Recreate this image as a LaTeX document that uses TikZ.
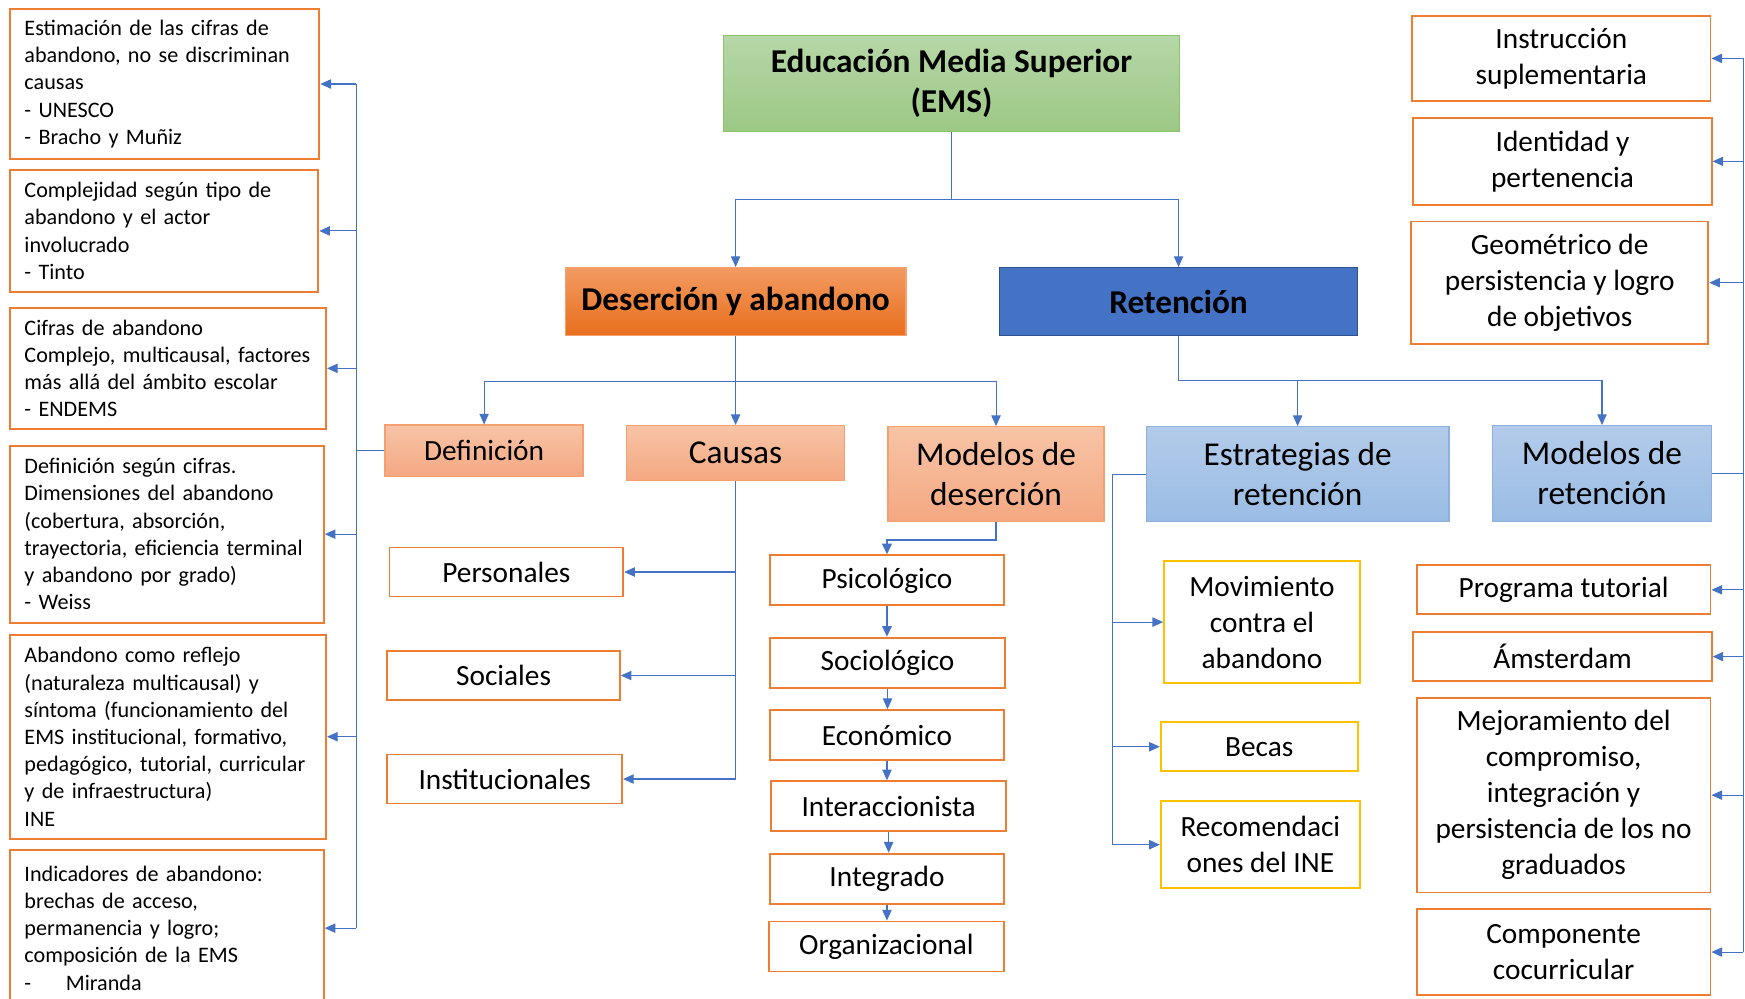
\documentclass[tikz,border=0pt]{standalone}
\usepackage{fontspec}
\setmainfont{Carlito}
\usetikzlibrary{arrows.meta,calc}
\definecolor{orng}{HTML}{ED7D31}
\definecolor{yel}{HTML}{FFC000}
\definecolor{lnblue}{HTML}{4472C4}
\definecolor{grtop}{HTML}{B6D7A8}
\definecolor{grbot}{HTML}{9CC885}
\definecolor{grbd}{HTML}{8CC46C}
\definecolor{ortop}{HTML}{F29B62}
\definecolor{orbot}{HTML}{E86E1C}
\definecolor{satop}{HTML}{F7C4A6}
\definecolor{sabot}{HTML}{F4A882}
\definecolor{sabd}{HTML}{F4A070}
\definecolor{rblue}{HTML}{4472C4}
\definecolor{rbd}{HTML}{2F528F}
\definecolor{lbtop}{HTML}{B3CBEA}
\definecolor{lbbot}{HTML}{9ABCE4}
\definecolor{lbbd}{HTML}{8FB0DD}
\tikzset{
  sz/.style 2 args={minimum width=#1*0.8347pt, minimum height=#2*0.8347pt},
  tw/.style={text width=#1*0.8347pt},
  lbox/.style={draw=orng, line width=1.4pt, fill=white, align=left,
     inner xsep=13*0.8347pt, inner ysep=0pt, font=\fontsize{16.6}{20.4}\selectfont},
  wbox/.style={draw=orng, line width=1.4pt, fill=white, align=center, inner sep=0pt,
     font=\fontsize{22}{27}\selectfont},
  ybox/.style={wbox, draw=yel},
  hbox/.style={line width=1pt, align=center, inner sep=0pt, font=\fontsize{25}{30}\selectfont\bfseries},
  sbox/.style={draw=sabd, line width=1pt, top color=satop, bottom color=sabot, align=center, inner sep=0pt,
     font=\fontsize{25}{30}\selectfont},
  bbox/.style={draw=lbbd, line width=1pt, top color=lbtop, bottom color=lbbot, align=center, inner sep=0pt,
     font=\fontsize{25}{30}\selectfont},
  ln/.style={draw=lnblue, line width=0.8pt},
  arr/.style={ln, -{Triangle[length=8pt,width=7pt]}},
  thk/.style={draw=lnblue, line width=1.6pt, -{Triangle[length=8pt,width=7pt]}},
}
\begin{document}
\begin{tikzpicture}[x=0.8347pt, y=-0.8347pt]
\useasboundingbox (0,0) rectangle (1568,897);

% top level
\node[hbox, draw=grbd, top color=grtop, bottom color=grbot, sz={410}{86}] (EMS) at (855,75) {Educación Media Superior\\(EMS)};
\node[hbox, draw=sabd, top color=ortop, bottom color=orbot, sz={306}{61}] (Des) at (661,271) {Deserción y abandono};
\node[hbox, draw=rbd, fill=rblue, sz={322}{61}] (Ret) at (1059,271) {Retención};

% second level
\node[sbox, sz={178}{46}, font=\fontsize{22}{27}\selectfont] (Def) at (435,405) {Definición};
\node[sbox, sz={196}{49}] (Cau) at (661,407) {Causas};
\node[sbox, sz={194}{85}] (MD) at (895,426) {Modelos de\\deserción};
\node[bbox, sz={272}{85}] (ER) at (1166,426) {Estrategias de\\retención};
\node[bbox, sz={197}{86}] (MR) at (1439.5,425.5) {Modelos de\\retención};

% left column
\node[lbox, sz={278}{135}, tw={252}] (L1) at (148,75.5) {Estimación de las cifras de\\abandono, no se discriminan\\causas\\- UNESCO\\- Bracho y Muñiz};
\node[lbox, sz={277}{110}, tw={251}] (L2) at (147.5,207.5) {Complejidad según tipo de\\abandono y el actor\\involucrado\\- Tinto};
\node[lbox, sz={284}{109}, tw={258}] (L3) at (151,331) {Cifras de abandono\\\mbox{Complejo, multicausal, factores}\\más allá del ámbito escolar\\- ENDEMS};
\node[lbox, sz={282}{159}, tw={256}] (L4) at (150,480) {Definición según cifras.\\Dimensiones del abandono\\(cobertura, absorción,\\\mbox{trayectoria, eficiencia terminal}\\y abandono por grado)\\- Weiss};
\node[lbox, sz={284}{183}, tw={258}] (L5) at (151,662) {Abandono como reflejo\\(naturaleza multicausal) y\\síntoma (funcionamiento del\\EMS institucional, formativo,\\\mbox{pedagógico, tutorial, curricular}\\y de infraestructura)\\INE};
\node[lbox, sz={282}{140}, tw={256}] (L6) at (150,834) {Indicadores de abandono:\\brechas de acceso,\\permanencia y logro;\\composición de la EMS\\-\hspace{26pt}Miranda};

% causes
\node[wbox, sz={210}{44}] (Per) at (455,514) {Personales};
\node[wbox, sz={209}{44}] (Soc) at (452.5,607) {Sociales};
\node[wbox, sz={211}{44}] (Ins) at (453.5,700) {Institucionales};

% desertion models
\node[wbox, sz={210}{45}] (Psi) at (797,521.5) {Psicológico};
\node[wbox, sz={211}{45}] (Scl) at (797.5,595.5) {Sociológico};
\node[wbox, sz={210}{45}] (Eco) at (797,660.5) {Económico};
\node[wbox, sz={211}{45}] (Itr) at (798.5,724.5) {Interaccionista};
\node[wbox, sz={210}{45}] (Itg) at (797,789.5) {Integrado};
\node[wbox, sz={211}{45}] (Org) at (796.5,850.5) {Organizacional};

% strategies
\node[ybox, sz={176}{110}] (Mov) at (1134,559) {Movimiento\\contra el\\abandono};
\node[ybox, sz={177}{44}] (Bec) at (1131.5,671) {Becas};
\node[ybox, sz={179}{78}] (Rec) at (1132.5,759) {Recomendaci\\ones del INE};

% retention models
\node[wbox, sz={268}{77}] (R1) at (1403,52.5) {Instrucción\\suplementaria};
\node[wbox, sz={268}{78}] (R2) at (1404,145) {Identidad y\\pertenencia};
\node[wbox, sz={267}{110}] (R3) at (1401.5,254) {Geométrico de\\persistencia y logro\\de objetivos};
\node[wbox, sz={264}{44}] (R4) at (1405,530) {Programa tutorial};
\node[wbox, sz={268}{44}] (R5) at (1404,590) {Ámsterdam};
\node[wbox, sz={264}{175}] (R6) at (1405,714.5) {Mejoramiento del\\compromiso,\\integración y\\persistencia de los no\\graduados};
\node[wbox, sz={264}{77}] (R7) at (1405,855.5) {Componente\\cocurricular};

% connectors: top
\coordinate (b1) at (855,179);
\draw[ln] (EMS.south) -- (b1);
\draw[arr] (b1) -| (Des.north);
\draw[arr] (b1) -| (Ret.north);

\coordinate (b2) at (661,343);
\draw[ln] (Des.south) -- (b2);
\draw[arr] (b2) -| (Def.north);
\draw[arr] (b2) -- (Cau.north);
\draw[arr] (b2) -| (MD.north);

\coordinate (b3) at (1059,342);
\draw[ln] (Ret.south) -- (b3);
\draw[arr] (b3) -| (ER.north);
\draw[arr] (b3) -| (MR.north);

% left bus
\coordinate (lb) at (320,405);
\draw[ln] (Def.west) -- (lb);
\draw[ln] (lb |- L1.east) -- (lb |- L6.east);
\foreach \n in {L1,L2,L3,L4,L5,L6} { \draw[arr] (lb |- \n.east) -- (\n.east); }

% causes
\draw[ln] (Cau.south) -- (Cau.south |- Ins.east);
\foreach \n in {Per,Soc,Ins} { \draw[arr] (Cau.south |- \n.east) -- (\n.east); }

% desertion models chain
\coordinate (mdb) at (895,485);
\draw[thk] (MD.south) -- (mdb) -| (Psi.north);
\draw[thk] (Psi.south) -- (Psi.south |- Scl.north);
\draw[arr] (Scl.south) -- (Scl.south |- Eco.north);
\draw[arr] (Eco.south) -- (Eco.south |- Itr.north);
\draw[arr] (Itr.south) -- (Itr.south |- Itg.north);
\draw[arr] (Itg.south) -- (Itg.south |- Org.north);

% strategies bus
\coordinate (eb) at (1000,426);
\draw[ln] (ER.west) -- (eb);
\draw[ln] (eb) -- (eb |- Rec.west);
\foreach \n in {Mov,Bec,Rec} { \draw[arr] (eb |- \n.west) -- (\n.west); }

% retention models bus
\coordinate (rb) at (1566.5,425.5);
\draw[ln] (MR.east) -- (rb);
\draw[ln] (rb |- R1.east) -- (rb |- R7.east);
\foreach \n in {R1,R2,R3,R4,R5,R6,R7} { \draw[arr] (rb |- \n.east) -- (\n.east); }
\end{tikzpicture}
\end{document}
